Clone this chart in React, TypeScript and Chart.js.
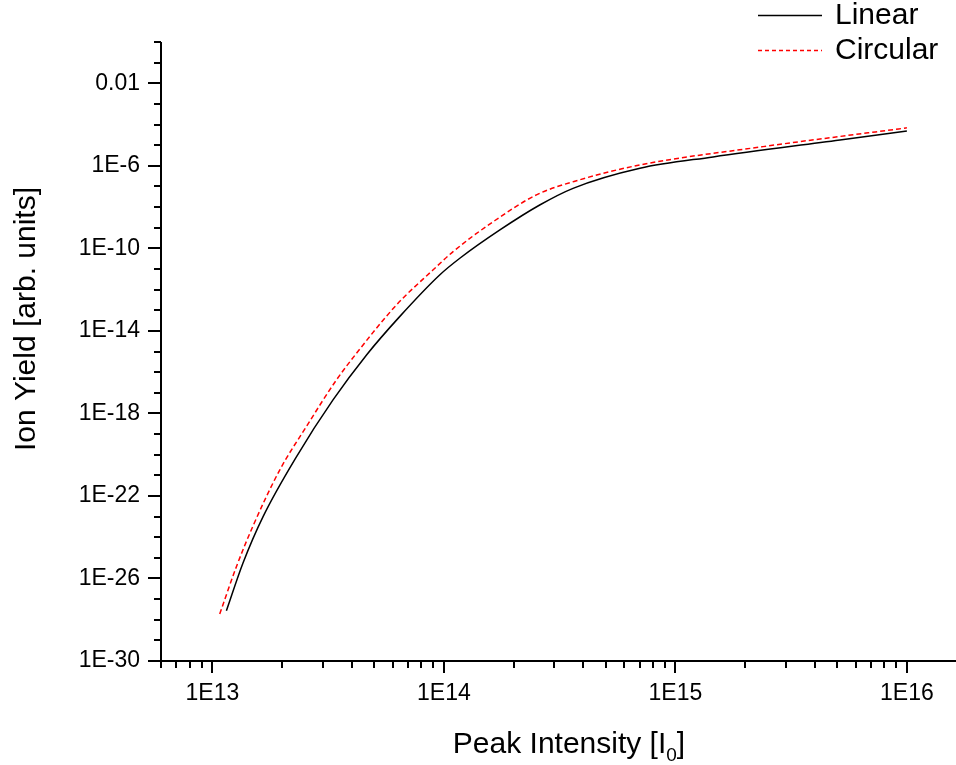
import React, { useEffect, useRef } from "react";
import { Chart, registerables } from "chart.js";

Chart.register(...registerables);

// Linear polarization (black solid)
const linearX = [1.15e13, 1.355e13, 1.656e13, 2.307e13, 3.32e13, 4.634e13, 6.442e13, 9.59e13, 1.172e14, 1.746e14, 2.594e14, 3.614e14, 7.03e14, 1.455e15, 5.14e15, 1e16];
const linearY = [2.75e-28, 5.5e-26, 1.0e-23, 7.9e-21, 4.5e-18, 6.8e-16, 4.9e-14, 5.1e-12, 3.3e-11, 7.8e-10, 1.26e-8, 8.1e-8, 7.6e-7, 2.7e-6, 1.78e-5, 4.9e-5];

// Circular polarization (red dashed)
const circularX = [1.076e13, 1.27e13, 1.493e13, 1.954e13, 2.547e13, 3.436e13, 4.19e13, 6.24e13, 8.97e13, 1.096e14, 1.633e14, 2.512e14, 3.864e14, 7.03e14, 2.393e15, 1e16];
const circularY = [1.9e-28, 3.7e-26, 3.2e-24, 1.8e-21, 2.3e-19, 4.2e-17, 8.1e-16, 1.8e-13, 8.9e-12, 6.9e-11, 1.95e-9, 3.9e-8, 2.1e-7, 1.1e-6, 8.5e-6, 6.9e-5];

// Axes
const xMin = 6e12;
const xMax = 1.63e16;
const xMajorTicks = [1e13, 1e14, 1e15, 1e16];
const xMajorLabels = ["1E13", "1E14", "1E15", "1E16"];
const yMin = 1e-30;
const yMax = 1;
const yLabelExps = [-30, -26, -22, -18, -14, -10, -6, -2];
const yLabels = ["1E-30", "1E-26", "1E-22", "1E-18", "1E-14", "1E-10", "1E-6", "0.01"];

const seriesNames = ["Linear", "Circular"];
const xTitle = "Peak Intensity [I";
const xTitleSub = "0";
const yTitle = "Ion Yield [arb. units]";

const FONT = "'Liberation Sans', Arial, sans-serif";

function buildXTicks(): { value: number; major: boolean }[] {
  const out: { value: number; major: boolean }[] = [];
  for (let e = 12; e <= 16; e++) {
    for (let m = 1; m <= 9; m++) {
      const v = m * Math.pow(10, e);
      if (v >= xMin * 0.999 && v <= xMax) out.push({ value: v, major: m === 1 });
    }
  }
  return out;
}

function buildYTicks(): { value: number; major: boolean }[] {
  const out: { value: number; major: boolean }[] = [];
  for (let e = -30; e <= 0; e++) {
    out.push({ value: Math.pow(10, e), major: yLabelExps.includes(e) });
  }
  return out;
}

const decoPlugin = {
  id: "deco",
  afterDraw(chart: any) {
    const ctx = chart.ctx;
    const area = chart.chartArea;
    const xs = chart.scales.x;
    const ys = chart.scales.y;
    ctx.save();
    ctx.strokeStyle = "#000";
    ctx.lineWidth = 2;
    ctx.lineCap = "butt";
    // axis lines
    ctx.beginPath();
    ctx.moveTo(area.left, area.top);
    ctx.lineTo(area.left, area.bottom + 1);
    ctx.moveTo(area.left - 1, area.bottom);
    ctx.lineTo(area.right, area.bottom);
    ctx.stroke();
    // y ticks
    buildYTicks().forEach((t) => {
      const p = Math.round(ys.getPixelForValue(t.value));
      const len = t.major ? 13 : 7;
      ctx.beginPath();
      ctx.moveTo(area.left - len, p);
      ctx.lineTo(area.left, p);
      ctx.stroke();
    });
    // x ticks
    buildXTicks().forEach((t) => {
      const p = Math.round(xs.getPixelForValue(t.value));
      const len = t.major ? 12 : 7;
      ctx.beginPath();
      ctx.moveTo(p, area.bottom);
      ctx.lineTo(p, area.bottom + len);
      ctx.stroke();
    });
    // titles
    ctx.fillStyle = "#000";
    ctx.font = `30px ${FONT}`;
    ctx.textAlign = "left";
    ctx.textBaseline = "alphabetic";
    const xw = ctx.measureText(xTitle).width;
    ctx.font = `19px ${FONT}`;
    const sw = ctx.measureText(xTitleSub).width;
    ctx.font = `30px ${FONT}`;
    const bw = ctx.measureText("]").width;
    const total = xw + sw + bw;
    const cx = 569;
    const x0 = cx - total / 2;
    const base = 753;
    ctx.fillText(xTitle, x0, base);
    ctx.font = `19px ${FONT}`;
    ctx.fillText(xTitleSub, x0 + xw, base + 8);
    ctx.font = `30px ${FONT}`;
    ctx.fillText("]", x0 + xw + sw, base);

    ctx.save();
    ctx.translate(35, 319);
    ctx.rotate(-Math.PI / 2);
    ctx.textAlign = "center";
    ctx.fillText(yTitle, 0, 0);
    ctx.restore();

    // legend
    const rows = [
      { y: 15, color: "#000", dash: [] as number[] },
      { y: 50, color: "#ff0000", dash: [4, 3] },
    ];
    rows.forEach((r, i) => {
      ctx.save();
      ctx.strokeStyle = r.color;
      ctx.lineWidth = 1.3;
      ctx.setLineDash(r.dash);
      ctx.beginPath();
      ctx.moveTo(758, r.y + 0.5);
      ctx.lineTo(822, r.y + 0.5);
      ctx.stroke();
      ctx.restore();
      ctx.font = `30px ${FONT}`;
      ctx.textBaseline = "middle";
      ctx.textAlign = "left";
      ctx.fillStyle = "#000";
      ctx.fillText(seriesNames[i], 835, r.y + 1);
    });
    ctx.restore();
  },
};

export default function App() {
  const ref = useRef<HTMLCanvasElement | null>(null);
  useEffect(() => {
    if (!ref.current) return;
    const chart = new Chart(ref.current, {
      type: "line",
      data: {
        datasets: [
          {
            label: seriesNames[0],
            data: linearX.map((x, i) => ({ x, y: linearY[i] })),
            borderColor: "#000000",
            borderWidth: 1.5,
            pointRadius: 0,
            cubicInterpolationMode: "monotone",
            fill: false,
          },
          {
            label: seriesNames[1],
            data: circularX.map((x, i) => ({ x, y: circularY[i] })),
            borderColor: "#ff0000",
            borderWidth: 1.5,
            borderDash: [5, 3],
            pointRadius: 0,
            cubicInterpolationMode: "monotone",
            fill: false,
          },
        ],
      },
      options: {
        animation: false,
        responsive: false,
        maintainAspectRatio: false,
        layout: { padding: { top: 42, right: 0, left: 0, bottom: 0 } },
        plugins: { legend: { display: false }, tooltip: { enabled: false } },
        scales: {
          x: {
            type: "logarithmic",
            min: xMin,
            max: xMax,
            grid: { display: false, drawTicks: false, drawOnChartArea: false },
            border: { display: false },
            afterBuildTicks: (scale: any) => {
              scale.ticks = xMajorTicks.map((v) => ({ value: v, major: true }));
            },
            afterFit: (scale: any) => {
              scale.height = 104;
            },
            ticks: {
              autoSkip: false,
              maxRotation: 0,
              minRotation: 0,
              padding: 19,
              color: "#000",
              font: { family: FONT, size: 23 },
              callback: (value: any) => {
                const e = Math.round(Math.log10(Number(value)));
                const idx = xMajorTicks.findIndex((v) => Math.round(Math.log10(v)) === e);
                return idx >= 0 ? xMajorLabels[idx] : "";
              },
            },
          },
          y: {
            type: "logarithmic",
            min: yMin,
            max: yMax,
            grid: { display: false, drawTicks: false, drawOnChartArea: false },
            border: { display: false },
            afterBuildTicks: (scale: any) => {
              scale.ticks = yLabelExps.map((e) => ({ value: Math.pow(10, e), major: true }));
            },
            afterFit: (scale: any) => {
              scale.width = 161;
            },
            ticks: {
              autoSkip: false,
              padding: 21,
              color: "#000",
              font: { family: FONT, size: 23 },
              callback: (value: any) => {
                const e = Math.round(Math.log10(Number(value)));
                const idx = yLabelExps.indexOf(e);
                return idx >= 0 ? yLabels[idx] : "";
              },
            },
          },
        },
      },
      plugins: [decoPlugin],
    } as any);
    return () => chart.destroy();
  }, []);
  return (
    <div style={{ position: "absolute", left: 0, top: 0, width: 956, height: 765, background: "#fff" }}>
      <canvas ref={ref} width={956} height={765} />
    </div>
  );
}
